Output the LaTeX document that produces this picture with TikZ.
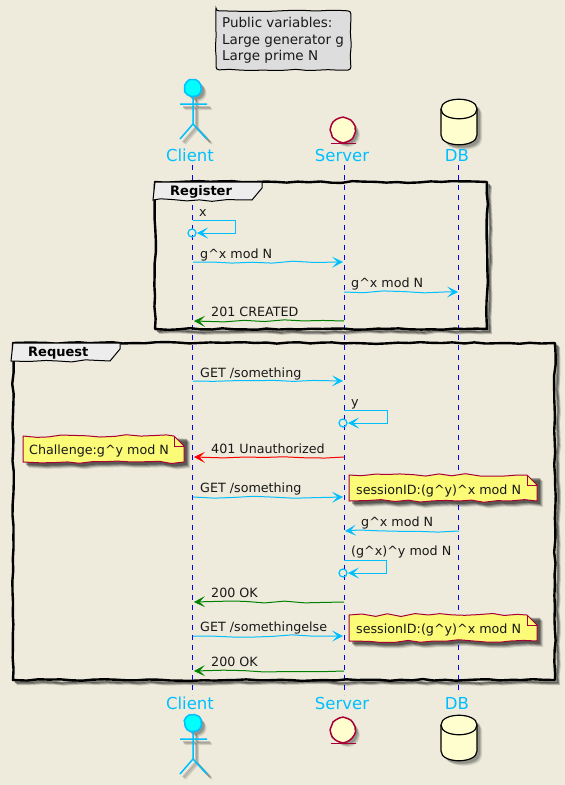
\documentclass[tikz,border=0pt]{standalone}
\usepackage{fontspec}
\setmainfont{DejaVu Sans}
\usetikzlibrary{arrows.meta,decorations.pathmorphing,shapes.geometric}
\definecolor{bgc}{HTML}{EEEBDC}
\definecolor{sky}{HTML}{00BFFF}
\definecolor{headc}{HTML}{00FFFF}
\definecolor{lifec}{HTML}{0000FF}
\definecolor{notey}{HTML}{FBFB77}
\definecolor{crim}{HTML}{A80036}
\definecolor{cream}{HTML}{FEFECE}
\definecolor{okg}{HTML}{008000}
\tikzset{
  x=1pt,y=-1pt,
  wob/.style={decoration={random steps,segment length=11pt,amplitude=.9pt}},
  wobnote/.style={decoration={random steps,segment length=13pt,amplitude=1.5pt}},
  wobfine/.style={decoration={random steps,segment length=20pt,amplitude=1.2pt}},
  wobcirc/.style={decorate,decoration={random steps,segment length=3.5pt,amplitude=.35pt}},
  tipopen/.style={-{Stealth[length=11pt,width=11pt,inset=5.5pt,line width=.6pt]}},
  msg/.style={line width=1pt,wobfine,decorate,tipopen},
  selfline/.style={line width=1pt,tipopen},
  life/.style={draw=lifec,line width=1pt,dash pattern=on 5pt off 5pt},
  lbl/.style={font=\fontsize{12.7}{15}\selectfont,text=black!90,anchor=base west,inner sep=0pt},
  partlbl/.style={font=\fontsize{16.5}{20}\selectfont,text=sky,anchor=base,inner sep=0pt},
  grouplbl/.style={font=\fontsize{13}{15}\bfseries\selectfont,anchor=base west,inner sep=0pt},
  noteline/.style={draw=crim,line width=1pt,fill=notey,line join=round},
}
\newcommand{\softshadow}[5]{%
  \foreach \o/\a in {6/.12,5/.18,4/.24,3/.3}{%
    \pgfmathsetseed{#1}%
    \fill[black,opacity=\a,wobnote,shift={(\o,\o)}] (#2,#3) decorate{-- (#4,#3)} -- (#4,#5) decorate{-- (#2,#5)} -- cycle;
  }%
}
\newcommand{\notebox}[5]{% seed,x1,y1,x2,y2
  \softshadow{#1}{#2}{#3}{#4}{#5}%
  \pgfmathsetseed{#1}%
  \path[noteline,wobnote] (#2,#3) decorate{-- ({#4-10},#3)} -- (#4,{#3+10}) -- (#4,#5) decorate{-- (#2,#5)} -- cycle;
  \draw[crim,line width=1pt] ({#4-10},#3) -- ({#4-10},{#3+10}) -- (#4,{#3+10});
}
\newcommand{\actorman}[3]{% name,x,y(head centre)
  \foreach \o/\a in {5/.1,4/.14,3/.18}{%
    \begin{scope}[shift={(\o,\o)},opacity=\a]
      \fill[black] (#2,#3) circle (8.5);
      \draw[black,line width=2pt] (#2-13,#3+16) -- (#2+14,#3+16) (#2,#3+8) -- (#2,#3+36) -- (#2-13,#3+51) (#2,#3+36) -- (#2+14,#3+51);
    \end{scope}}%
  \draw[sky,line width=1.5pt] (#2-13,#3+16) -- (#2+14,#3+16) (#2,#3+8) -- (#2,#3+36) -- (#2-13,#3+51) (#2,#3+36) -- (#2+14,#3+51);
  \node[circle,draw=sky,fill=headc,line width=1.5pt,minimum size=16pt,inner sep=0pt,wobcirc] (#1) at (#2,#3) {};
}
\newcommand{\entityman}[3]{% name,x,y
  \foreach \o/\a in {5/.1,4/.14,3/.18}{\fill[black,opacity=\a,shift={(\o,\o)}] (#2,#3) circle (12);}%
  \node[circle,draw=crim,fill=cream,line width=1.5pt,minimum size=24pt,inner sep=0pt,wobcirc] (#1) at (#2,#3) {};
  \draw[crim,line width=1.5pt] (#2-12,#3+13.5) -- (#2+13,#3+13.5);
}
\newcommand{\dbcyl}[3]{% name,x,ytop
  \foreach \o/\a in {5/.1,4/.14,3/.18}{\fill[black,opacity=\a,shift={(\o,\o)}] (#2-18,#3+10) .. controls (#2-18,#3-3) and (#2+18,#3-3) .. (#2+18,#3+10) -- (#2+18,#3+36) .. controls (#2+18,#3+49) and (#2-18,#3+49) .. (#2-18,#3+36) -- cycle;}%
  \draw[black,line width=1.2pt,fill=cream] (#2-18,#3+10) .. controls (#2-18,#3-3) and (#2+18,#3-3) .. (#2+18,#3+10) -- (#2+18,#3+36) .. controls (#2+18,#3+49) and (#2-18,#3+49) .. (#2-18,#3+36) -- cycle;
  \draw[black,line width=1.2pt] (#2-18,#3+10) .. controls (#2-18,#3+23) and (#2+18,#3+23) .. (#2+18,#3+10);
  \coordinate (#1) at (#2,#3);
}
\newcommand{\grp}[6]{% seed,x1,y1,x2,y2,tabx
  \foreach \o/\a in {4/.2,3/.3,2/.4}{\pgfmathsetseed{#1}\draw[black,opacity=\a,wob,line width=2pt,shift={(\o,\o)}] (#4,#3) decorate{-- (#4,#5)} decorate{-- (#2,#5)};}%
  \pgfmathsetseed{#1}%
  \draw[wob,black,line width=2.4pt,line join=round] (#2,#3) decorate{-- (#4,#3)} decorate{-- (#4,#5)} decorate{-- (#2,#5)} decorate{-- (#2,#3)} -- cycle;
  \path[wobnote,draw=black,line width=1pt,fill=black!7] (#2,#3) -- (#6,#3) decorate{-- (#6,{#3+6})} decorate{-- ({#6-10},{#3+18})} decorate{-- ({#2-2},{#3+18})} -- cycle;
}
\begin{document}
\begin{tikzpicture}
\fill[bgc] (0,0) rectangle (565,785);
\useasboundingbox (0,0) rectangle (565,785);
% lifelines
\coordinate (cT) at (192.5,165); \coordinate (cB) at (192.5,695);
\coordinate (sT) at (344,165); \coordinate (sB) at (344,695);
\coordinate (dT) at (458.5,165); \coordinate (dB) at (458.5,695);
\path[life] (cT) -- (cB);
\path[life] (sT) -- (sB);
\path[life] (dT) -- (dB);
% public variables legend
\pgfmathsetseed{11}
\path[wob,draw=black,line width=1pt,fill=black!13.5,rounded corners=3pt] (216,11) decorate{-- (351,11)} decorate{-- (351,70)} decorate{-- (216,70)} decorate{-- (216,11)} -- cycle;
\node[anchor=north west,align=left,inner sep=0pt,font=\fontsize{13.5}{16.5}\selectfont,text=black!90] (legend) at (222,17.5) {Public variables:\\Large generator g\\Large prime N};
% participants
\pgfmathsetseed{3}
\actorman{clientTop}{193}{88}
\entityman{serverTop}{343}{130}
\dbcyl{dbTop}{459}{99}
\node[partlbl] (clientLblTop) at (190,161) {Client};
\node[partlbl] (serverLblTop) at (342,161) {Server};
\node[partlbl] (dbLblTop) at (457,161) {DB};
\node[partlbl] (clientLblBot) at (190,709) {Client};
\node[partlbl] (serverLblBot) at (342,709) {Server};
\node[partlbl] (dbLblBot) at (457,709) {DB};
\actorman{clientBot}{193}{723}
\entityman{serverBot}{343}{730}
\dbcyl{dbBot}{459}{715}
% groups
\grp{21}{155}{182}{487}{329}{262}
\node[grouplbl] (regLbl) at (170,195) {Register};
\grp{22}{13}{343}{555}{680}{120}
\node[grouplbl] (reqLbl) at (28,356) {Request};
% notes
\notebox{31}{23}{436}{184}{462}
\node[lbl] (note1) at (29,454) {Challenge:g\^{}y mod N};
\notebox{32}{349}{475}{537}{501}
\node[lbl] (note2) at (356,494) {sessionID:(g\^{}y)\^{}x mod N};
\notebox{33}{349}{615}{537}{641}
\node[lbl] (note3) at (356,633) {sessionID:(g\^{}y)\^{}x mod N};
% message end points
\coordinate (a1) at (193,220); \coordinate (a1r) at (235,220); \coordinate (a1b) at (235,233); \coordinate (a1e) at (197,233);
\coordinate (a2s) at (193,262); \coordinate (a2e) at (343,262);
\coordinate (a3s) at (344,292); \coordinate (a3e) at (458,292);
\coordinate (a4s) at (344,321); \coordinate (a4e) at (194,321);
\coordinate (b1s) at (193,381); \coordinate (b1e) at (343,381);
\coordinate (b2) at (344,410); \coordinate (b2r) at (387,410); \coordinate (b2b) at (387,423); \coordinate (b2e) at (348,423);
\coordinate (b3s) at (344,457); \coordinate (b3e) at (194,457);
\coordinate (b4s) at (193,497); \coordinate (b4e) at (343,497);
\coordinate (b5s) at (459,531); \coordinate (b5e) at (345,531);
\coordinate (b6) at (344,560); \coordinate (b6r) at (386,560); \coordinate (b6b) at (386,573); \coordinate (b6e) at (348,573);
\coordinate (b7s) at (344,602); \coordinate (b7e) at (194,602);
\coordinate (b8s) at (193,636); \coordinate (b8e) at (343,636);
\coordinate (b9s) at (344,671); \coordinate (b9e) at (194,671);
\pgfmathsetseed{5}
% self messages
\draw[sky,selfline] (a1) -- (a1r) -- (a1b) -- (a1e);
\node[circle,draw=sky,line width=1.2pt,minimum size=8pt,inner sep=0pt] (o1) at (192,233) {};
\draw[sky,selfline] (b2) -- (b2r) -- (b2b) -- (b2e);
\node[circle,draw=sky,line width=1.2pt,minimum size=8pt,inner sep=0pt] (o2) at (343,423) {};
\draw[sky,selfline] (b6) -- (b6r) -- (b6b) -- (b6e);
\node[circle,draw=sky,line width=1.2pt,minimum size=8pt,inner sep=0pt] (o3) at (343,573) {};
% messages
\draw[sky,msg] (a2s) -- (a2e);
\draw[sky,msg] (a3s) -- (a3e);
\draw[okg,msg] (a4s) -- (a4e);
\draw[sky,msg] (b1s) -- (b1e);
\draw[red,msg] (b3s) -- (b3e);
\draw[sky,msg] (b4s) -- (b4e);
\draw[sky,msg] (b5s) -- (b5e);
\draw[okg,msg] (b7s) -- (b7e);
\draw[sky,msg] (b8s) -- (b8e);
\draw[okg,msg] (b9s) -- (b9e);
% message labels
\node[lbl] (t1) at (199,216) {x};
\node[lbl] (t2) at (200,258) {g\^{}x mod N};
\node[lbl] (t3) at (351,287) {g\^{}x mod N};
\node[lbl] (t4) at (211,316) {201 CREATED};
\node[lbl] (t5) at (200,377) {GET /something};
\node[lbl] (t6) at (351,406) {y};
\node[lbl] (t7) at (211,453) {401 Unauthorized};
\node[lbl] (t8) at (200,492) {GET /something};
\node[lbl] (t9) at (361,526) {g\^{}x mod N};
\node[lbl] (t10) at (351,555) {(g\^{}x)\^{}y mod N};
\node[lbl] (t11) at (211,597) {200 OK};
\node[lbl] (t12) at (200,631) {GET /somethingelse};
\node[lbl] (t13) at (211,666) {200 OK};
\end{tikzpicture}
\end{document}
